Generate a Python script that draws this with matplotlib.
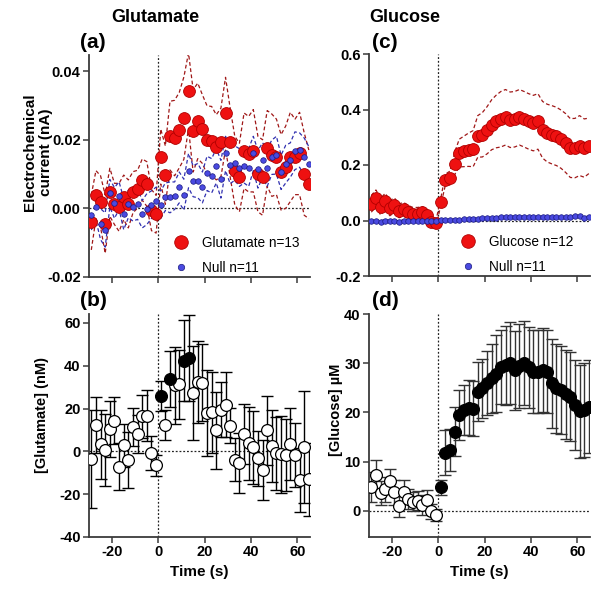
import numpy as np
import matplotlib
matplotlib.use("Agg")
import matplotlib.pyplot as plt

plt.rcParams['font.family'] = ['Liberation Sans', 'DejaVu Sans']
plt.rcParams['axes.unicode_minus'] = False

# ---------------- data ----------------
time = np.arange(-29, 66, 2)  # seconds

glu_mean = [-0.0041, 0.0040, 0.0020, -0.0046, 0.0047, 0.0013, 0.0003, 0.0032, 0.0013, 0.0047,
            0.0056, 0.0084, 0.0071, -0.0005, -0.0017,
            0.0151, 0.0097, 0.0212, 0.0205, 0.0228, 0.0263, 0.0343, 0.0226, 0.0255, 0.0231,
            0.0199, 0.0197, 0.0178, 0.0192, 0.0277, 0.0192, 0.0110, 0.0090, 0.0168, 0.0158,
            0.0168, 0.0100, 0.0090, 0.0175, 0.0155, 0.0150, 0.0105, 0.0120, 0.0150, 0.0150,
            0.0160, 0.0100, 0.0070]
glu_sem = [0.0080, 0.0070, 0.0075, 0.0085, 0.0070, 0.0060, 0.0070, 0.0065, 0.0070, 0.0060,
           0.0055, 0.0060, 0.0065, 0.0060, 0.0055,
           0.0080, 0.0085, 0.0100, 0.0110, 0.0110, 0.0120, 0.0110, 0.0120, 0.0110, 0.0100,
           0.0100, 0.0100, 0.0095, 0.0100, 0.0105, 0.0100, 0.0100, 0.0100, 0.0110, 0.0110,
           0.0120, 0.0110, 0.0110, 0.0110, 0.0120, 0.0110, 0.0110, 0.0120, 0.0130, 0.0110,
           0.0120, 0.0120, 0.0100]
null_a_mean = [-0.0018, 0.0005, -0.0046, -0.0063, 0.0044, 0.0016, 0.0037, -0.0017, 0.0013, 0.0003,
               0.0013, -0.0017, -0.0002, 0.0011, 0.0022,
               0.0011, 0.0034, 0.0032, 0.0037, 0.0061, 0.0040, 0.0110, 0.0079, 0.0081, 0.0061,
               0.0102, 0.0095, 0.0124, 0.0085, 0.0160, 0.0127, 0.0132, 0.0119, 0.0124, 0.0119,
               0.0160, 0.0114, 0.0141, 0.0119, 0.0149, 0.0155, 0.0105, 0.0129, 0.0141, 0.0168,
               0.0170, 0.0150, 0.0130]
null_a_sem = [0.0045, 0.0040, 0.0045, 0.0050, 0.0040, 0.0045, 0.0040, 0.0045, 0.0040, 0.0040,
              0.0045, 0.0040, 0.0045, 0.0040, 0.0040,
              0.0040, 0.0040, 0.0045, 0.0040, 0.0045, 0.0045, 0.0050, 0.0045, 0.0050, 0.0045,
              0.0050, 0.0050, 0.0050, 0.0055, 0.0050, 0.0055, 0.0050, 0.0055, 0.0050, 0.0055,
              0.0050, 0.0055, 0.0050, 0.0055, 0.0050, 0.0055, 0.0050, 0.0055, 0.0050, 0.0055,
              0.0050, 0.0055, 0.0050]

gluconc_mean = [-3.6, 12.4, 3.3, 0.6, 10.4, 14.3, -7.2, 2.8, -4.1, 11.3, 8.2, 16.4, 16.7, -0.6, -6.5,
                26.1, 12.3, 33.7, 31.0, 31.3, 42.4, 43.5, 27.4, 32.4, 32.1, 18.0, 18.3, 9.8, 19.5,
                21.9, 12.1, -3.8, -5.4, 8.2, 3.8, 1.9, -3.3, -8.8, 9.8, 2.5, -0.9, -1.3, -1.7, 3.5,
                -1.7, -13.5, 2.0, -13.0]
gluconc_err = [23, 13, 16, 17, 13, 11, 11, 10, 13, 9, 9, 10, 12, 8, 5,
               7, 7, 13, 18, 16, 19, 20, 22, 19, 18, 20, 19, 18, 13, 15, 8, 10, 14, 14, 17,
               17, 13, 14, 16, 17, 17, 18, 17, 17, 15, 15, 26, 17]
gluconc_sig = [False] * 15 + [True, False, True, False, False, True, True] + [False] * 26

glc_mean = [0.060, 0.080, 0.050, 0.070, 0.045, 0.055, 0.035, 0.040, 0.030, 0.025, 0.025, 0.030,
            0.020, -0.005, -0.010,
            0.067, 0.147, 0.153, 0.205, 0.243, 0.249, 0.255, 0.259, 0.303, 0.309, 0.325, 0.345,
            0.357, 0.365, 0.372, 0.363, 0.365, 0.372, 0.365, 0.357, 0.351, 0.357, 0.327, 0.315,
            0.309, 0.303, 0.293, 0.279, 0.261, 0.261, 0.270, 0.261, 0.269]
glc_sem = [0.030, 0.030, 0.030, 0.028, 0.028, 0.026, 0.025, 0.025, 0.024, 0.022, 0.022, 0.020,
           0.020, 0.015, 0.012,
           0.012, 0.020, 0.025, 0.040, 0.050, 0.055, 0.060, 0.065, 0.075, 0.080, 0.085, 0.090,
           0.095, 0.100, 0.100, 0.100, 0.100, 0.100, 0.100, 0.100, 0.100, 0.100, 0.102, 0.104,
           0.105, 0.105, 0.105, 0.106, 0.106, 0.107, 0.108, 0.105, 0.100]
null_c_mean = [-0.003, -0.002, -0.004, -0.001, -0.003, -0.002, -0.005, 0.000, -0.002, -0.001,
               -0.002, -0.001, -0.002, -0.003, -0.002,
               0.001, 0.002, 0.002, 0.003, 0.002, 0.004, 0.006, 0.007, 0.007, 0.008, 0.008, 0.009,
               0.010, 0.012, 0.011, 0.011, 0.012, 0.013, 0.012, 0.011, 0.013, 0.012, 0.012, 0.011,
               0.013, 0.012, 0.013, 0.012, 0.014, 0.015, 0.016, 0.010, 0.013]
null_c_sem = [0.004] * 48

glcconc_mean = [4.9, 7.3, 3.6, 4.4, 6.0, 3.8, 1.0, 3.9, 2.4, 1.9, 2.1, 1.2, 2.2, -0.1, -0.9,
                4.8, 11.8, 12.4, 16.1, 19.5, 20.5, 21.0, 20.8, 24.2, 24.9, 25.9, 26.9, 27.9, 29.3,
                29.6, 30.0, 28.6, 29.4, 30.0, 29.2, 28.3, 28.3, 28.6, 28.3, 25.9, 24.9, 24.6, 23.7,
                23.2, 21.5, 20.2, 20.5, 21.2]
glcconc_err = [3.0, 3.0, 2.5, 2.5, 2.5, 2.5, 2.3, 2.3, 2.0, 2.0, 2.0, 2.0, 2.0, 1.5, 1.2,
               1.5, 4.6, 4.3, 5.0, 5.0, 5.1, 5.5, 5.5, 6.0, 6.0, 6.5, 7.0, 7.8, 7.5, 8.0, 8.3, 8.0,
               8.5, 8.5, 8.2, 8.5, 8.5, 8.5, 8.5, 9.0, 9.0, 9.0, 9.0, 9.0, 9.2, 9.5, 9.5, 9.5]
glcconc_sig = [False] * 15 + [True] * 33

xticks = [-20, 0, 20, 40, 60]

# ---------------- figure ----------------
fig = plt.figure(figsize=(6.05, 5.96), dpi=100)
W, H = 605, 596

def add_ax(l, t, r, b):
    return fig.add_axes([l / W, 1 - b / H, (r - l) / W, (b - t) / H])

axA = add_ax(89, 55, 310, 277)
axB = add_ax(89, 314, 310, 537)
axC = add_ax(369, 54, 590, 276)
axD = add_ax(369, 314, 590, 537)

spine_col = '#3a3a3a'
for ax in (axA, axB, axC, axD):
    for s in ('top', 'right'):
        ax.spines[s].set_visible(False)
    for s in ('left', 'bottom'):
        ax.spines[s].set_color(spine_col)
        ax.spines[s].set_linewidth(1.3)
    ax.tick_params(direction='out', length=4, width=1.1, color=spine_col,
                   labelsize=10.5, pad=2)
    ax.set_xlim(-30, 65.5)
    ax.set_xticks(xticks)
    ax.axvline(0, color='#222222', lw=0.9, ls=(0, (1.5, 1.5)), zorder=1)
    ax.axhline(0, color='#222222', lw=0.9, ls=(0, (1.5, 1.5)), zorder=1)

t = time
red = '#ee1111'
dred = '#a01818'
blue = '#4a4ae0'
dblue = '#1a1a80'

# panel a
glu_mean_a = np.array(glu_mean); glu_sem_a = np.array(glu_sem)
nam = np.array(null_a_mean); nas = np.array(null_a_sem)
axA.plot(t, glu_mean_a + glu_sem_a, ls=(0, (3, 2)), color=dred, lw=0.9, zorder=2)
axA.plot(t, glu_mean_a - glu_sem_a, ls=(0, (3, 2)), color=dred, lw=0.9, zorder=2)
axA.plot(t, nam + nas, ls=(0, (3, 2)), color='#3030b0', lw=0.9, zorder=2)
axA.plot(t, nam - nas, ls=(0, (3, 2)), color='#3030b0', lw=0.9, zorder=2)
axA.plot(t, glu_mean_a, 'o', ms=8.5, mfc=red, mec='#b00000', mew=0.6, zorder=3,
         label='Glutamate n=13')
axA.plot(t, nam, 'o', ms=4, mfc=blue, mec=dblue, mew=0.5, zorder=4, label='Null n=11')
axA.set_ylim(-0.02, 0.0447)
axA.set_yticks([-0.02, 0.0, 0.02, 0.04])
axA.set_yticklabels(['-0.02', '0.00', '0.02', '0.04'])

# panel c
gm = np.array(glc_mean); gs = np.array(glc_sem)
ncm = np.array(null_c_mean); ncs = np.array(null_c_sem)
axC.plot(t, gm + gs, ls=(0, (3, 2)), color=dred, lw=0.9, zorder=2)
axC.plot(t, gm - gs, ls=(0, (3, 2)), color=dred, lw=0.9, zorder=2)
axC.plot(t, ncm + ncs, ls=(0, (3, 2)), color='#3030b0', lw=0.7, zorder=2)
axC.plot(t, ncm - ncs, ls=(0, (3, 2)), color='#3030b0', lw=0.7, zorder=2)
axC.plot(t, gm, 'o', ms=8.5, mfc=red, mec='#b00000', mew=0.6, zorder=3, label='Glucose n=12')
axC.plot(t, ncm, 'o', ms=4, mfc=blue, mec=dblue, mew=0.5, zorder=4, label='Null n=11')
axC.set_ylim(-0.2, 0.6)
axC.set_yticks([-0.2, 0.0, 0.2, 0.4, 0.6])
axC.set_yticklabels(['-0.2', '0.0', '0.2', '0.4', '0.6'])

for ax in (axA, axC):
    ax.tick_params(axis='x', labelbottom=False)

# panels b, d
def err_panel(ax, mean, err, sig, ecol):
    mean = np.array(mean); err = np.array(err); sig = np.array(sig)
    ax.errorbar(t, mean, yerr=err, fmt='none', ecolor=ecol, elinewidth=1.0,
                capsize=4, capthick=1.0, zorder=2)
    ax.plot(t[~sig], mean[~sig], 'o', ms=8.5, mfc='white', mec='black', mew=0.9, zorder=3)
    ax.plot(t[sig], mean[sig], 'o', ms=8.5, mfc='black', mec='black', mew=0.9, zorder=4)

err_panel(axB, gluconc_mean, gluconc_err, gluconc_sig, 'black')
axB.set_ylim(-40, 64.2)
axB.set_yticks([-40, -20, 0, 20, 40, 60])

err_panel(axD, glcconc_mean, glcconc_err, glcconc_sig, '#333333')
axD.set_ylim(-5.3, 40)
axD.set_yticks([0, 10, 20, 30, 40])

for ax in (axA, axB, axC, axD):
    for lab in ax.get_xticklabels() + ax.get_yticklabels():
        lab.set_fontweight('bold')

# legends
leg_font = {'family': ['Liberation Sans', 'DejaVu Sans'], 'size': 9.8}
for ax, x0 in ((axA, 0.338), (axC, 0.37)):
    ax.legend(loc='lower left', bbox_to_anchor=(x0, -0.035), frameon=False,
              prop=leg_font, handlelength=1.2, handletextpad=0.9, labelspacing=0.85,
              borderpad=0.2, markerscale=1.15)

# labels
axB.set_xlabel('Time (s)', fontsize=11, fontweight='bold', labelpad=4)
axD.set_xlabel('Time (s)', fontsize=11, fontweight='bold', labelpad=4)
fig.text(38 / W, 1 - 152 / H, 'Electrochemical\ncurrent (nA)', rotation=90, ha='center',
         va='center', fontsize=11, fontweight='bold', linespacing=1.1)
fig.text(42 / W, 1 - 415 / H, '[Glutamate] (nM)', rotation=90, ha='center', va='center',
         fontsize=10.5, fontweight='bold')
fig.text(336 / W, 1 - 410 / H, '[Glucose] µM', rotation=90, ha='center', va='center',
         fontsize=10.5, fontweight='bold')

fig.text(155 / W, 1 - 18 / H, 'Glutamate', ha='center', va='center', fontsize=13,
         fontweight='bold')
fig.text(405 / W, 1 - 18 / H, 'Glucose', ha='center', va='center', fontsize=13,
         fontweight='bold')
for (x, y, s) in [(93, 42, '(a)'), (93, 300, '(b)'), (385, 42, '(c)'), (385, 300, '(d)')]:
    fig.text(x / W, 1 - y / H, s, ha='center', va='center', fontsize=15, fontweight='bold')

fig.savefig('out.png', dpi=100)
